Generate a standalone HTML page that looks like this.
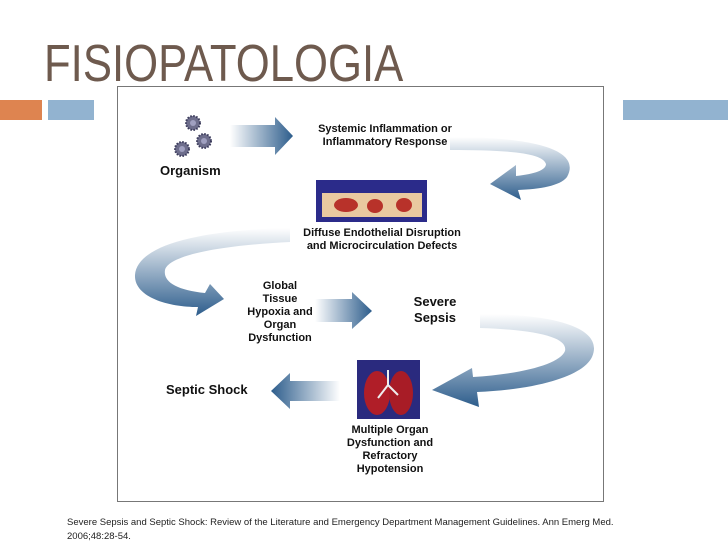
<!DOCTYPE html>
<html><head><meta charset="utf-8"><style>
body{margin:0;width:728px;height:546px;background:#fff;position:relative;overflow:hidden;font-family:"Liberation Sans",sans-serif}
.t{position:absolute;font-weight:bold;color:#111;text-align:center;font-size:11px;line-height:13px}
</style></head><body>
<div style="position:absolute;left:44px;top:34px;font-size:52px;color:#6e5a4e;font-family:'Liberation Sans',sans-serif;transform:scaleX(0.84);transform-origin:left">FISIOPATOLOGIA</div>
<div style="position:absolute;left:0;top:100px;width:42px;height:20px;background:#de8450"></div>
<div style="position:absolute;left:48px;top:100px;width:46px;height:20px;background:#92b3d0"></div>
<div style="position:absolute;left:623px;top:100px;width:105px;height:20px;background:#92b3d0"></div>
<div style="position:absolute;left:117px;top:86px;width:487px;height:416px;border:1px solid #777;box-sizing:border-box"></div>
<svg width="728" height="546" style="position:absolute;left:0;top:0">
<defs>
<linearGradient id="gr" x1="0" x2="1" y1="0" y2="0"><stop offset="0" stop-color="#fff"/><stop offset="1" stop-color="#2d5d8c"/></linearGradient>
<linearGradient id="gl" x1="1" x2="0" y1="0" y2="0"><stop offset="0" stop-color="#fff"/><stop offset="1" stop-color="#2d5d8c"/></linearGradient>
<linearGradient id="gv" x1="0" x2="0" y1="0" y2="1"><stop offset="0" stop-color="#fff"/><stop offset="1" stop-color="#2d5d8c"/></linearGradient>
</defs>
<polygon points="230,125 275,125 275,117 293,136 275,155 275,147 230,147" fill="url(#gr)"/>
<polygon points="315,299 352,299 352,292 372,311 352,329 352,322 315,322" fill="url(#gr)"/>
<polygon points="340,381 290,381 290,373 271,391 290,409 290,401 340,401" fill="url(#gl)"/>
<path d="M450,137 C535,137 582,150 567,177 C560,186 540,189 518,190 L521,200 L490,184 L516,165 L516,176 C535,174 546,170 546,164 C543,153 510,150 450,150 Z" fill="url(#gv)"/>
<path d="M290,228 C200,230 137,245 135,275 C134,297 168,307 198,307 L196,316 L224,299 L210,284 L205,293 C177,290 163,282 165,270 C168,257 210,246 290,242 Z" fill="url(#gv)"/>
<path d="M480,314 C562,314 604,330 592,357 C582,378 530,390 477,392 L479,407 L432,390 L472,368 L473,377 C522,374 560,364 565,351 C568,338 540,330 480,328 Z" fill="url(#gv)"/>
<g fill="#6e6e8c" stroke="#3a3a5a" stroke-width="2" stroke-dasharray="1.5 1.5"><circle cx="193" cy="123" r="7"/><circle cx="204" cy="141" r="7"/><circle cx="182" cy="149" r="7"/></g>
<g fill="#a0a0c0"><circle cx="193" cy="123" r="3"/><circle cx="204" cy="141" r="3"/><circle cx="182" cy="149" r="3"/></g>
<rect x="316" y="180" width="111" height="42" fill="#2b2b8a"/>
<rect x="322" y="193" width="100" height="24" fill="#e9c9a0"/>
<ellipse cx="346" cy="205" rx="12" ry="7" fill="#b8322a"/><ellipse cx="375" cy="206" rx="8" ry="7" fill="#b8322a"/><ellipse cx="404" cy="205" rx="8" ry="7" fill="#b8322a"/>
<rect x="357" y="360" width="63" height="59" fill="#2a2a7e"/>
<ellipse cx="377" cy="393" rx="13" ry="22" fill="#b01e28"/><ellipse cx="401" cy="393" rx="12" ry="22" fill="#a81c26"/>
<path d="M388,370 V385 M388,385 L378,398 M388,385 L398,395" stroke="#eee" stroke-width="2" fill="none"/>
</svg>
<div class="t" style="left:160px;top:164px;font-size:13px;text-align:left">Organism</div>
<div class="t" style="left:300px;top:123px;width:170px">Systemic Inflammation or<br>Inflammatory Response</div>
<div class="t" style="left:282px;top:227px;width:200px">Diffuse Endothelial Disruption<br>and Microcirculation Defects</div>
<div class="t" style="left:240px;top:280px;width:80px">Global<br>Tissue<br>Hypoxia and<br>Organ<br>Dysfunction</div>
<div class="t" style="left:395px;top:294px;width:80px;font-size:13px;line-height:16px">Severe<br>Sepsis</div>
<div class="t" style="left:166px;top:383px;font-size:13px;text-align:left">Septic Shock</div>
<div class="t" style="left:330px;top:424px;width:120px">Multiple Organ<br>Dysfunction and<br>Refractory<br>Hypotension</div>
<div style="position:absolute;left:67px;top:516px;font-size:9.5px;line-height:14px;color:#222">Severe Sepsis and Septic Shock: Review of the Literature and Emergency Department Management Guidelines. Ann Emerg Med.<br>2006;48:28-54.</div>
</body></html>
